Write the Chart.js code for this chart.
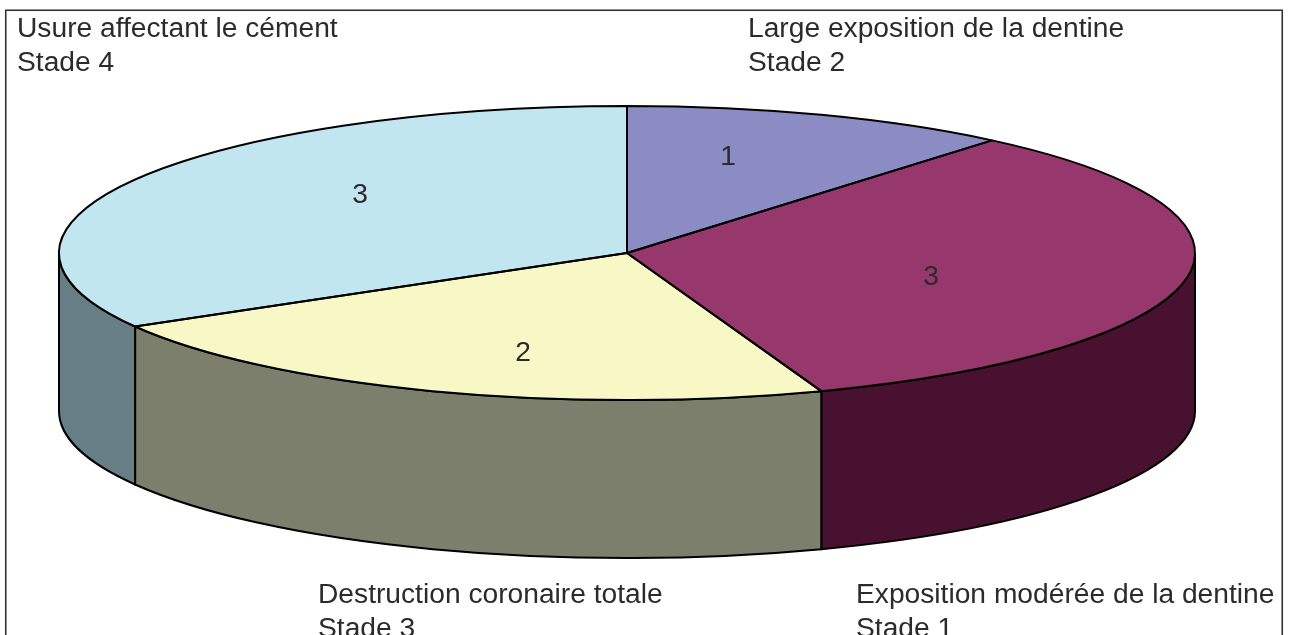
<!DOCTYPE html>
<html>
<head>
<meta charset="utf-8">
<style>
  html, body { margin: 0; padding: 0; background: #fff; overflow: hidden; }
  canvas { display: block; }
</style>
<script src="https://cdn.jsdelivr.net/npm/chart.js@4"></script>
</head>
<body>
<canvas id="chart" width="1290" height="635"></canvas>
<script>
// clockwise from 12 o'clock
const categories = [
  ['Large exposition de la dentine', 'Stade 2'],
  ['Exposition modérée de la dentine', 'Stade 1'],
  ['Destruction coronaire totale', 'Stade 3'],
  ['Usure affectant le cément', 'Stade 4']
]
const counts = [1, 3, 2, 3]

const topColors = ['#8a8cc3', '#96386c', '#f8f8c6', '#c2e6f0']
const sideColors = ['#45102f', '#47112f', '#7c7f6c', '#667e84']

// where the text goes on the page
const categoryPos = [[748, 37], [856, 603], [318, 603], [17, 37]]
const valuePos = [[728, 165], [931, 285], [523, 361], [360, 203]]

const pie = { cx: 627, cy: 253, rx: 568, ry: 147, depth: 158 }
const FONT = '28.2px "Liberation Sans", Arial, sans-serif'
const TEXT = '#2b2b2b'
const LINE = 2

const pie3d = {
  id: 'pie3d',
  beforeDraw(chart) {
    const { ctx } = chart
    ctx.save()
    ctx.strokeStyle = '#333'
    ctx.lineWidth = 1.6
    ctx.strokeRect(5.75, 10.25, 1276.5, 640)
    ctx.restore()
  },
  beforeDatasetsDraw(chart) {
    const { ctx } = chart
    const arcs = chart.getDatasetMeta(0).data
    // walls first, only the part of each slice facing us
    ctx.save()
    ctx.lineWidth = LINE
    ctx.strokeStyle = '#000'
    arcs.forEach((arc, i) => {
      const a0 = Math.max(arc.startAngle, 0)
      const a1 = Math.min(arc.endAngle, Math.PI)
      if (a1 <= a0) return
      ctx.beginPath()
      ctx.ellipse(pie.cx, pie.cy, pie.rx, pie.ry, 0, a0, a1)
      ctx.ellipse(pie.cx, pie.cy + pie.depth, pie.rx, pie.ry, 0, a1, a0, true)
      ctx.closePath()
      ctx.fillStyle = sideColors[i]
      ctx.fill()
      ctx.stroke()
    })
    ctx.restore()
    // squash the flat pie into the top ellipse
    const { x, y, outerRadius: r } = arcs[0]
    ctx.save()
    ctx.translate(pie.cx, pie.cy)
    ctx.scale(pie.rx / r, pie.ry / r)
    ctx.translate(-x, -y)
  },
  afterDatasetsDraw(chart) {
    const { ctx } = chart
    ctx.restore()
    ctx.save()
    ctx.lineWidth = LINE
    ctx.strokeStyle = '#000'
    ctx.lineJoin = 'round'
    chart.getDatasetMeta(0).data.forEach(arc => {
      ctx.beginPath()
      ctx.moveTo(pie.cx, pie.cy)
      ctx.ellipse(pie.cx, pie.cy, pie.rx, pie.ry, 0, arc.startAngle, arc.endAngle)
      ctx.closePath()
      ctx.stroke()
    })
    ctx.font = FONT
    ctx.fillStyle = TEXT
    ctx.textBaseline = 'alphabetic'
    ctx.textAlign = 'center'
    counts.forEach((v, i) => ctx.fillText(String(v), valuePos[i][0], valuePos[i][1]))
    ctx.textAlign = 'left'
    categories.forEach((lines, i) => {
      lines.forEach((line, j) => {
        ctx.fillText(line, categoryPos[i][0], categoryPos[i][1] + j * 34)
      })
    })
    ctx.restore()
  }
}

new Chart(document.getElementById('chart'), {
  type: 'pie',
  data: {
    labels: categories.map(c => c.join(' ')),
    datasets: [{
      data: counts,
      backgroundColor: topColors,
      borderWidth: 0,
      clip: false
    }]
  },
  options: {
    responsive: false,
    animation: false,
    plugins: {
      legend: { display: false },
      tooltip: { enabled: false }
    }
  },
  plugins: [pie3d]
})
</script>
</body>
</html>
